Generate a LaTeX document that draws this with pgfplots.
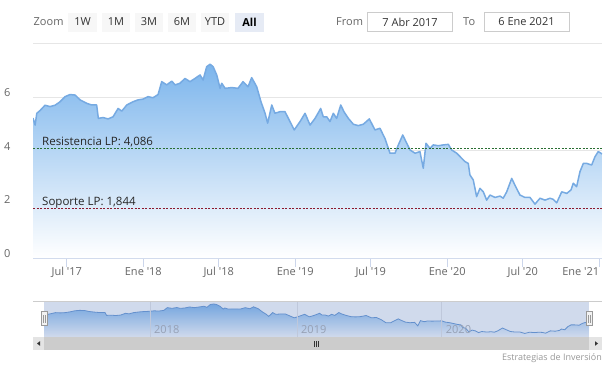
\documentclass[border=0pt]{standalone}
\usepackage{pgfplots}
\pgfplotsset{compat=1.18}
\usepackage{pgfplotstable}
\usepackage{fontspec}
\setmainfont{Open Sans}[Ligatures=TeXOff]
\definecolor{lbl}{RGB}{102,102,102}
\definecolor{gridc}{RGB}{230,230,230}
\definecolor{axline}{RGB}{204,214,235}
\definecolor{sertop}{RGB}{124,181,236}
\definecolor{serline}{RGB}{118,170,226}
\definecolor{navline}{RGB}{100,150,210}
\definecolor{maskc}{RGB}{102,133,194}
\definecolor{resc}{RGB}{40,110,50}
\definecolor{supc}{RGB}{140,25,45}
\definecolor{btn}{RGB}{247,247,247}
\definecolor{btnsel}{RGB}{230,235,245}
\definecolor{txt}{RGB}{51,51,51}
\definecolor{navlbl}{RGB}{150,160,180}
\definecolor{g242}{RGB}{242,242,242}
\definecolor{g153}{RGB}{153,153,153}
\definecolor{g204}{RGB}{204,204,204}
\definecolor{g228}{RGB}{228,228,228}

\pgfplotstableread{
t v
2017.274 5.22
2017.288 4.96
2017.299 5.40
2017.320 5.50
2017.353 5.70
2017.386 5.65
2017.419 5.70
2017.452 5.83
2017.485 6.02
2017.518 6.10
2017.551 6.08
2017.584 5.90
2017.628 5.77
2017.661 5.71
2017.693 5.71
2017.704 5.21
2017.735 5.24
2017.768 5.19
2017.801 5.27
2017.834 5.58
2017.858 5.48
2017.891 5.71
2017.932 5.83
2017.965 5.90
2017.998 5.93
2018.031 6.02
2018.064 5.98
2018.097 6.10
2018.121 6.58
2018.154 6.46
2018.187 6.60
2018.209 6.46
2018.241 6.52
2018.274 6.70
2018.307 6.58
2018.340 6.70
2018.373 6.83
2018.393 6.64
2018.417 7.14
2018.439 7.23
2018.459 7.14
2018.483 6.83
2018.505 6.33
2018.516 6.52
2018.538 6.33
2018.582 6.36
2018.623 6.33
2018.656 6.58
2018.689 6.39
2018.713 6.73
2018.746 6.39
2018.774 5.83
2018.801 5.40
2018.818 5.03
2018.845 5.71
2018.866 5.40
2018.899 5.46
2018.932 5.46
2018.965 5.09
2018.993 4.78
2019.031 5.09
2019.064 5.40
2019.097 4.96
2019.130 5.21
2019.167 5.58
2019.184 5.27
2019.207 5.27
2019.228 5.09
2019.250 5.40
2019.272 5.21
2019.299 5.71
2019.320 5.46
2019.349 5.21
2019.382 4.99
2019.414 4.94
2019.447 4.99
2019.487 5.19
2019.524 4.78
2019.557 4.84
2019.590 4.46
2019.623 3.91
2019.656 3.91
2019.678 4.22
2019.707 4.59
2019.728 4.34
2019.755 4.03
2019.788 3.91
2019.820 3.97
2019.842 3.35
2019.860 4.28
2019.886 4.09
2019.908 4.22
2019.941 4.19
2019.974 4.22
2020.007 4.24
2020.029 4.03
2020.062 3.91
2020.095 3.72
2020.116 3.60
2020.138 3.53
2020.149 3.10
2020.171 2.91
2020.193 2.29
2020.215 2.60
2020.237 2.47
2020.259 2.16
2020.281 2.35
2020.314 2.26
2020.347 2.31
2020.368 2.23
2020.391 2.47
2020.424 2.97
2020.445 2.72
2020.478 2.35
2020.511 2.26
2020.544 2.26
2020.577 2.01
2020.610 2.23
2020.643 2.16
2020.676 2.23
2020.697 2.19
2020.720 2.06
2020.753 2.47
2020.786 2.41
2020.814 2.54
2020.829 2.79
2020.851 2.66
2020.873 3.22
2020.895 3.53
2020.917 3.53
2020.950 3.47
2020.972 3.78
2020.993 3.97
2021.011 3.91
2021.018 3.88
}\pricedata

\begin{document}
\begin{tikzpicture}
\begin{scope}[x=1pt,y=1pt]
\useasboundingbox (0,0) rectangle (616,370);
\fill[white] (0,0) rectangle (616,370);

% ---- range selector ----
\node[anchor=west, inner sep=0, text=lbl, font=\fontsize{11}{13}\selectfont] at (33.5,348) {Zoom};
\foreach \a/\b/\l in {68/97/1W,102/130/1M,135/163/3M,168/196/6M,201/229/YTD}{
  \fill[btn] (\a,338.3) rectangle (\b,357.3);
  \node[text=txt, font=\fontsize{11}{13}\selectfont, inner sep=0] at ({(\a+\b)/2},348) {\l};
}
\fill[btnsel] (235,338.3) rectangle (264,357.3);
\node[text=black, font=\fontsize{11}{13}\selectfont\bfseries, inner sep=0] at (249.5,348) {All};
\node[anchor=west, inner sep=0, text=lbl, font=\fontsize{11}{13}\selectfont] at (336,348) {From};
\draw[g204, fill=white] (367.6,338.3) rectangle (452.6,357.3);
\node[text=txt, font=\fontsize{11}{13}\selectfont, inner sep=0] at (410.1,348) {7 Abr 2017};
\node[anchor=west, inner sep=0, text=lbl, font=\fontsize{11}{13}\selectfont] at (463,348) {To};
\draw[g204, fill=white] (484,338.3) rectangle (569,357.3);
\node[text=txt, font=\fontsize{11}{13}\selectfont, inner sep=0] at (526.5,348) {6 Ene 2021};
\end{scope}

% ---- main chart ----
\begin{axis}[
  at={(33pt,112pt)}, anchor=south west,
  width=569pt, height=214.4pt, scale only axis,
  xmin=2017.274, xmax=2021.018, ymin=0, ymax=8,
  separate axis lines,
  axis x line*=bottom, axis y line*=left,
  y axis line style={draw=none},
  x axis line style={draw=axline, line width=1pt, -},
  ymajorgrids, grid style={draw=gridc, line width=0.8pt},
  ytick={0,2,4,6,8}, yticklabels={0,2,4,6,{}},
  ytick style={draw=none},
  yticklabel style={anchor=west, inner sep=0, xshift=-20pt, yshift=4.5pt, text=lbl, font=\fontsize{11}{13}\selectfont},
  xtick={2017.496,2018,2018.496,2019,2019.496,2020,2020.497,2021},
  xticklabels={Jul '17,Ene '18,Jul '18,Ene '19,Jul '19,Ene '20,Jul '20,\makebox[0pt][r]{Ene '21}},
  xtick style={draw=axline, line width=0.8pt},
  tick align=outside, major tick length=9pt,
  xticklabel style={anchor=base, inner sep=0, text=lbl, font=\fontsize{11}{13}\selectfont, yshift=-8pt},
  /pgf/number format/assume math mode=true,
]
\addplot[draw=none, top color=sertop, bottom color=white] table[x=t,y=v] {\pricedata} \closedcycle;
\addplot[serline, line width=1.5pt, line join=round] table[x=t,y=v] {\pricedata};
\addplot[resc, line width=0.9pt, dash pattern=on 2pt off 1.5pt] coordinates {(2017.274,4.086) (2021.018,4.086)};
\addplot[supc, line width=0.9pt, dash pattern=on 2pt off 1.5pt] coordinates {(2017.274,1.844) (2021.018,1.844)};
\end{axis}

% ---- navigator ----
\begin{axis}[
  at={(44pt,33pt)}, anchor=south west,
  width=545pt, height=36pt, scale only axis,
  xmin=2017.274, xmax=2021.018, ymin=1.38, ymax=7.76,
  hide axis, clip=true,
]
\addplot[draw=none, top color=sertop, bottom color=white] table[x=t,y=v] {\pricedata} \closedcycle;
\addplot[navline, line width=0.8pt] table[x=t,y=v] {\pricedata};
\end{axis}

\begin{scope}[x=1pt,y=1pt]
\node[anchor=west, inner sep=0, text=black!85, font=\fontsize{11.5}{13}\selectfont] at (42,228.3) {Resistencia LP: 4,086};
\node[anchor=west, inner sep=0, text=black!85, font=\fontsize{11.5}{13}\selectfont] at (42,167.3) {Soporte LP: 1,844};
\foreach \gx in {150,297,441.7}{
  \draw[gridc, line width=0.8pt] (\gx,33) -- (\gx,69);
}
\fill[maskc, fill opacity=0.3] (44,33) rectangle (589,69);
\draw[g204, line width=0.8pt] (33,69) -- (602,69);
\node[anchor=west, inner sep=0, text=navlbl, font=\fontsize{11}{13}\selectfont] at (154,40.7) {2018};
\node[anchor=west, inner sep=0, text=navlbl, font=\fontsize{11}{13}\selectfont] at (301,40.7) {2019};
\node[anchor=west, inner sep=0, text=navlbl, font=\fontsize{11}{13}\selectfont] at (445.7,40.7) {2020};
% handles
\foreach \hx in {44,589}{
  \draw[fill=g242, draw=g153, line width=0.8pt] (\hx-3,44.5) rectangle (\hx+3,58.5);
  \draw[g153, line width=0.6pt] (\hx-0.8,47.5) -- (\hx-0.8,55.5);
  \draw[g153, line width=0.6pt] (\hx+0.8,47.5) -- (\hx+0.8,55.5);
}
% scrollbar
\fill[g242] (33,20) rectangle (602,33);
\fill[g204] (44,20) rectangle (589,33);
\fill[g228] (33,20) rectangle (44,33);
\fill[g228] (589,20) rectangle (602,33);
\fill[txt] (37,26.5) -- (40,28.8) -- (40,24.2) -- cycle;
\fill[txt] (598,26.5) -- (595,28.8) -- (595,24.2) -- cycle;
\foreach \gx in {314.5,316.5,318.5}{
  \draw[txt, line width=0.6pt] (\gx,23.5) -- (\gx,29.5);
}
% credits
\node[anchor=base east, inner sep=0, text=g153, font=\fontsize{9}{10}\selectfont] at (602,10) {Estrategias de Inversión};
\end{scope}
\end{tikzpicture}
\end{document}
